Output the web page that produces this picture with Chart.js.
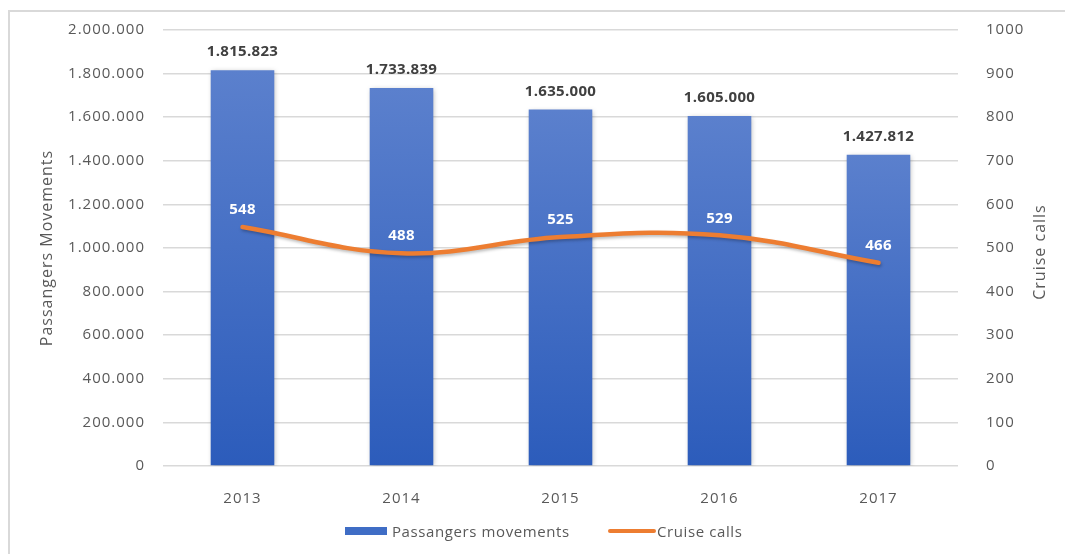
<!DOCTYPE html>
<html><head><meta charset="utf-8">
<script src="https://cdn.jsdelivr.net/npm/chart.js@4.4.1/dist/chart.umd.min.js"></script>
<style>
html,body{margin:0;padding:0;background:#fff;overflow:hidden;}
#wrap{position:relative;width:1065px;height:554px;overflow:hidden;}
#frame{position:absolute;left:8px;top:10px;width:1100px;height:600px;border:2px solid #d9d9d9;box-sizing:border-box;}
#c{position:absolute;left:0;top:0;}
.lt{position:absolute;font:15px 'Open Sans',sans-serif;color:#595959;letter-spacing:0.6px;line-height:20px;top:521px;white-space:nowrap;}
.lb{position:absolute;}
</style></head>
<body>
<div id="wrap">
<div id="frame"></div>
<canvas id="c" width="1065" height="554"></canvas>
<div class="lb" style="left:345px;top:527px;width:42px;height:8px;background:#3f6dc5;"></div>
<div class="lt" style="left:392px;">Passangers movements</div>
<div class="lb" style="left:608px;top:529px;width:48px;height:4px;background:#ed7d31;border-radius:2px;"></div>
<div class="lt" style="left:657px;">Cruise calls</div>
</div>
<script>
const years = ['2013', '2014', '2015', '2016', '2017'];
const passengers = [1815823, 1733839, 1635000, 1605000, 1427812];
const cruiseCalls = [548, 488, 525, 529, 466];
const leftAxisMax = 2000000, leftAxisStep = 200000;
const rightAxisMax = 1000, rightAxisStep = 100;
const leftTitle = 'Passangers Movements';
const rightTitle = 'Cruise calls';

const TXT = '#595959';
const FONT = "'Open Sans', sans-serif";
const fmt = v => String(v).replace(/\B(?=(\d{3})+(?!\d))/g, '.');

const spacing = {
  id: 'spacing',
  beforeUpdate(c) { c.ctx.letterSpacing = '1px'; },
  beforeDraw(c) { c.ctx.letterSpacing = '1px'; }
};

const shadows = {
  id: 'shadows',
  beforeDatasetDraw(chart, args) {
    const ctx = chart.ctx;
    ctx.save();
    if (args.meta.type === 'bar') {
      ctx.shadowColor = 'rgba(0,0,0,0.28)';
      ctx.shadowBlur = 5; ctx.shadowOffsetX = 1; ctx.shadowOffsetY = 1;
    } else {
      ctx.shadowColor = 'rgba(0,0,0,0.25)';
      ctx.shadowBlur = 3; ctx.shadowOffsetX = 1; ctx.shadowOffsetY = 2;
    }
  },
  afterDatasetDraw(chart) { chart.ctx.restore(); }
};

const valueLabels = {
  id: 'valueLabels',
  afterDatasetsDraw(chart) {
    const ctx = chart.ctx;
    ctx.save();
    ctx.letterSpacing = '0.3px';
    ctx.textAlign = 'center';
    ctx.textBaseline = 'middle';
    ctx.font = "bold 15px " + FONT;
    chart.data.datasets.forEach((ds, i) => {
      const meta = chart.getDatasetMeta(i);
      meta.data.forEach((el, j) => {
        if (meta.type === 'bar') {
          ctx.fillStyle = '#404040';
          ctx.fillText(fmt(ds.data[j]), el.x, el.y - 18);
        } else {
          ctx.fillStyle = '#ffffff';
          ctx.fillText(String(ds.data[j]), el.x, el.y - 17);
        }
      });
    });
    ctx.restore();
  }
};

const rightAxisTitle = {
  id: 'rightAxisTitle',
  afterDraw(chart) {
    const s = chart.scales.y1;
    const ctx = chart.ctx;
    ctx.save();
    ctx.letterSpacing = '1px';
    ctx.font = "16px " + FONT;
    ctx.fillStyle = TXT;
    ctx.textAlign = 'center';
    ctx.textBaseline = 'middle';
    ctx.translate(s.right - 9, (s.top + s.bottom) / 2 + 4);
    ctx.rotate(-Math.PI / 2);
    ctx.fillText(rightTitle, 0, 0);
    ctx.restore();
  }
};

new Chart(document.getElementById('c'), {
  data: {
    labels: years,
    datasets: [
      {
        type: 'line',
        label: 'Cruise calls',
        data: cruiseCalls,
        yAxisID: 'y1',
        borderColor: '#ed7d31',
        borderWidth: 4.5,
        borderCapStyle: 'round',
        tension: 0.4,
        pointRadius: 0,
        pointHoverRadius: 0,
        fill: false,
        order: 1
      },
      {
        type: 'bar',
        label: 'Passangers movements',
        data: passengers,
        yAxisID: 'y',
        backgroundColor: (c) => {
          const chart = c.chart;
          if (!chart.chartArea || c.type !== 'data') return '#4472c4';
          const ys = chart.scales.y;
          const top = ys.getPixelForValue(c.raw);
          const bot = ys.getPixelForValue(0);
          const g = chart.ctx.createLinearGradient(0, top, 0, bot);
          g.addColorStop(0, '#5b80cd');
          g.addColorStop(1, '#2c5cbb');
          return g;
        },
        borderWidth: 0,
        barPercentage: 0.4,
        categoryPercentage: 1,
        order: 2
      }
    ]
  },
  options: {
    responsive: false,
    animation: false,
    events: [],
    layout: { padding: { left: 30, right: 16, top: 30, bottom: 0 } },
    plugins: { legend: { display: false }, tooltip: { enabled: false } },
    scales: {
      x: {
        grid: { display: false },
        border: { display: false },
        ticks: { color: TXT, font: { family: FONT, size: 15 }, padding: 16 },
        afterFit: s => { s.height = 88; }
      },
      y: {
        position: 'left',
        min: 0, max: leftAxisMax,
        ticks: { stepSize: leftAxisStep, color: TXT, font: { family: FONT, size: 15 }, padding: 18, callback: v => fmt(v) },
        grid: { color: '#d9d9d9', lineWidth: 1.5, drawTicks: false },
        border: { display: false },
        title: { display: true, text: leftTitle, color: TXT, font: { family: FONT, size: 16 }, padding: { top: 8, bottom: 0 } },
        afterFit: s => { s.width = 133; }
      },
      y1: {
        position: 'right',
        min: 0, max: rightAxisMax,
        ticks: { stepSize: rightAxisStep, color: TXT, font: { family: FONT, size: 15 }, padding: 20, callback: v => String(v) },
        grid: { display: false },
        border: { display: false },
        title: { display: false },
        afterFit: s => { s.width = 91; }
      }
    }
  },
  plugins: [spacing, shadows, valueLabels, rightAxisTitle]
});
</script>
</body></html>
